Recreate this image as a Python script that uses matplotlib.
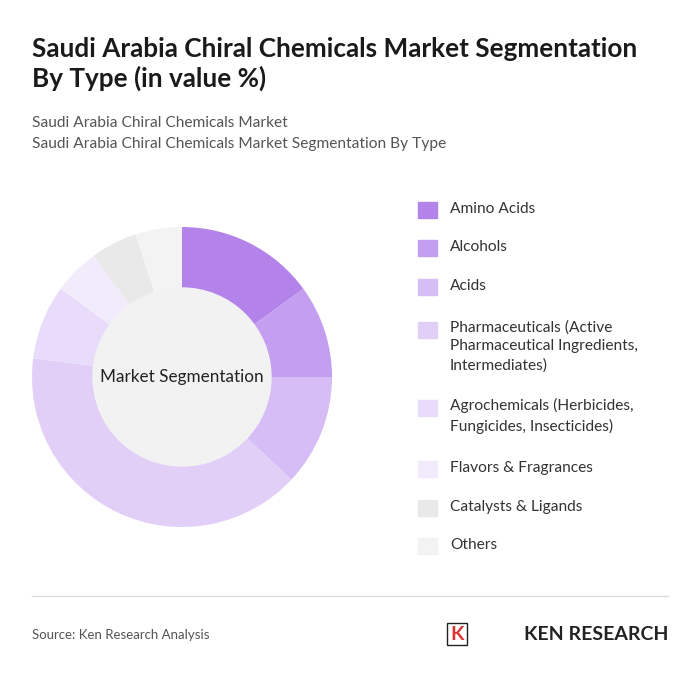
import matplotlib
matplotlib.use("Agg")
import matplotlib.pyplot as plt
from matplotlib.patches import Rectangle

labels = ["Amino Acids", "Alcohols", "Acids",
          "Pharmaceuticals (Active\nPharmaceutical Ingredients,\nIntermediates)",
          "Agrochemicals (Herbicides,\nFungicides, Insecticides)",
          "Flavors & Fragrances", "Catalysts & Ligands", "Others"]
values = [15, 10, 12, 40, 8, 5, 5, 5]
colors = ["#b383ea", "#c49ef0", "#d6bdf5", "#e2cff8", "#e9dcfa", "#f2ebfc", "#e9e9e9", "#f3f3f3"]

W, H = 700, 682
fig = plt.figure(figsize=(W/100, H/100), dpi=100)
fig.patch.set_facecolor("white")

fig.text(32/W, 1-64/H, "Saudi Arabia Chiral Chemicals Market Segmentation\nBy Type (in value %)",
         fontsize=18.8, fontweight="bold", color="#1a1a1a", va="center", family="Lato", linespacing=1.25)
fig.text(32/W, 1-123/H, "Saudi Arabia Chiral Chemicals Market", fontsize=11.2, color="#555555", va="center", family="Lato")
fig.text(32/W, 1-144/H, "Saudi Arabia Chiral Chemicals Market Segmentation By Type", fontsize=11.2, color="#555555", va="center", family="Lato")

cx, cy, R = 182, 377, 150
ax = fig.add_axes([(cx-R)/W, 1-(cy+R)/H, 2*R/W, 2*R/H])
ax.pie(values, colors=colors, startangle=90, counterclock=False,
       wedgeprops=dict(width=62/150, linewidth=0))
ax.add_patch(plt.Circle((0, 0), 89/150, color="#f2f2f2"))
ax.text(0, 0, "Market Segmentation", ha="center", va="center", fontsize=12.3, color="#222222", family="Lato")
ax.set_xlim(-1, 1); ax.set_ylim(-1, 1); ax.set_aspect("equal"); ax.axis("off")

ys = [210, 248, 287, 330, 408, 469, 508, 546]
for lab, col, y in zip(labels, colors, ys):
    fig.patches.append(Rectangle((418/W, 1-(y+8)/H), 19/W, 16/H, color=col, transform=fig.transFigure))
    fig.text(450/W, 1-(y-1)/H if "\n" not in lab else 1-(y-10)/H, lab, fontsize=11.2, color="#333333",
             va="center" if "\n" not in lab else "top", family="Lato", linespacing=1.45)

fig.add_artist(plt.Line2D([32/W, 668/W], [1-596/H, 1-596/H], color="#dddddd", lw=1))
fig.text(32/W, 1-635/H, "Source: Ken Research Analysis", fontsize=9.5, color="#555555", va="center", family="Lato")
fig.text(668/W, 1-634/H, "KEN RESEARCH", fontsize=14, fontweight="bold", color="#222222", ha="right", va="center", family="Lato")
fig.text(457/W, 1-634/H, "K", fontsize=14, fontweight="bold", color="#d33", ha="center", va="center", family="Lato",
         bbox=dict(boxstyle="square,pad=0.15", fc="white", ec="#222222"))
fig.savefig("out.png", dpi=100)
